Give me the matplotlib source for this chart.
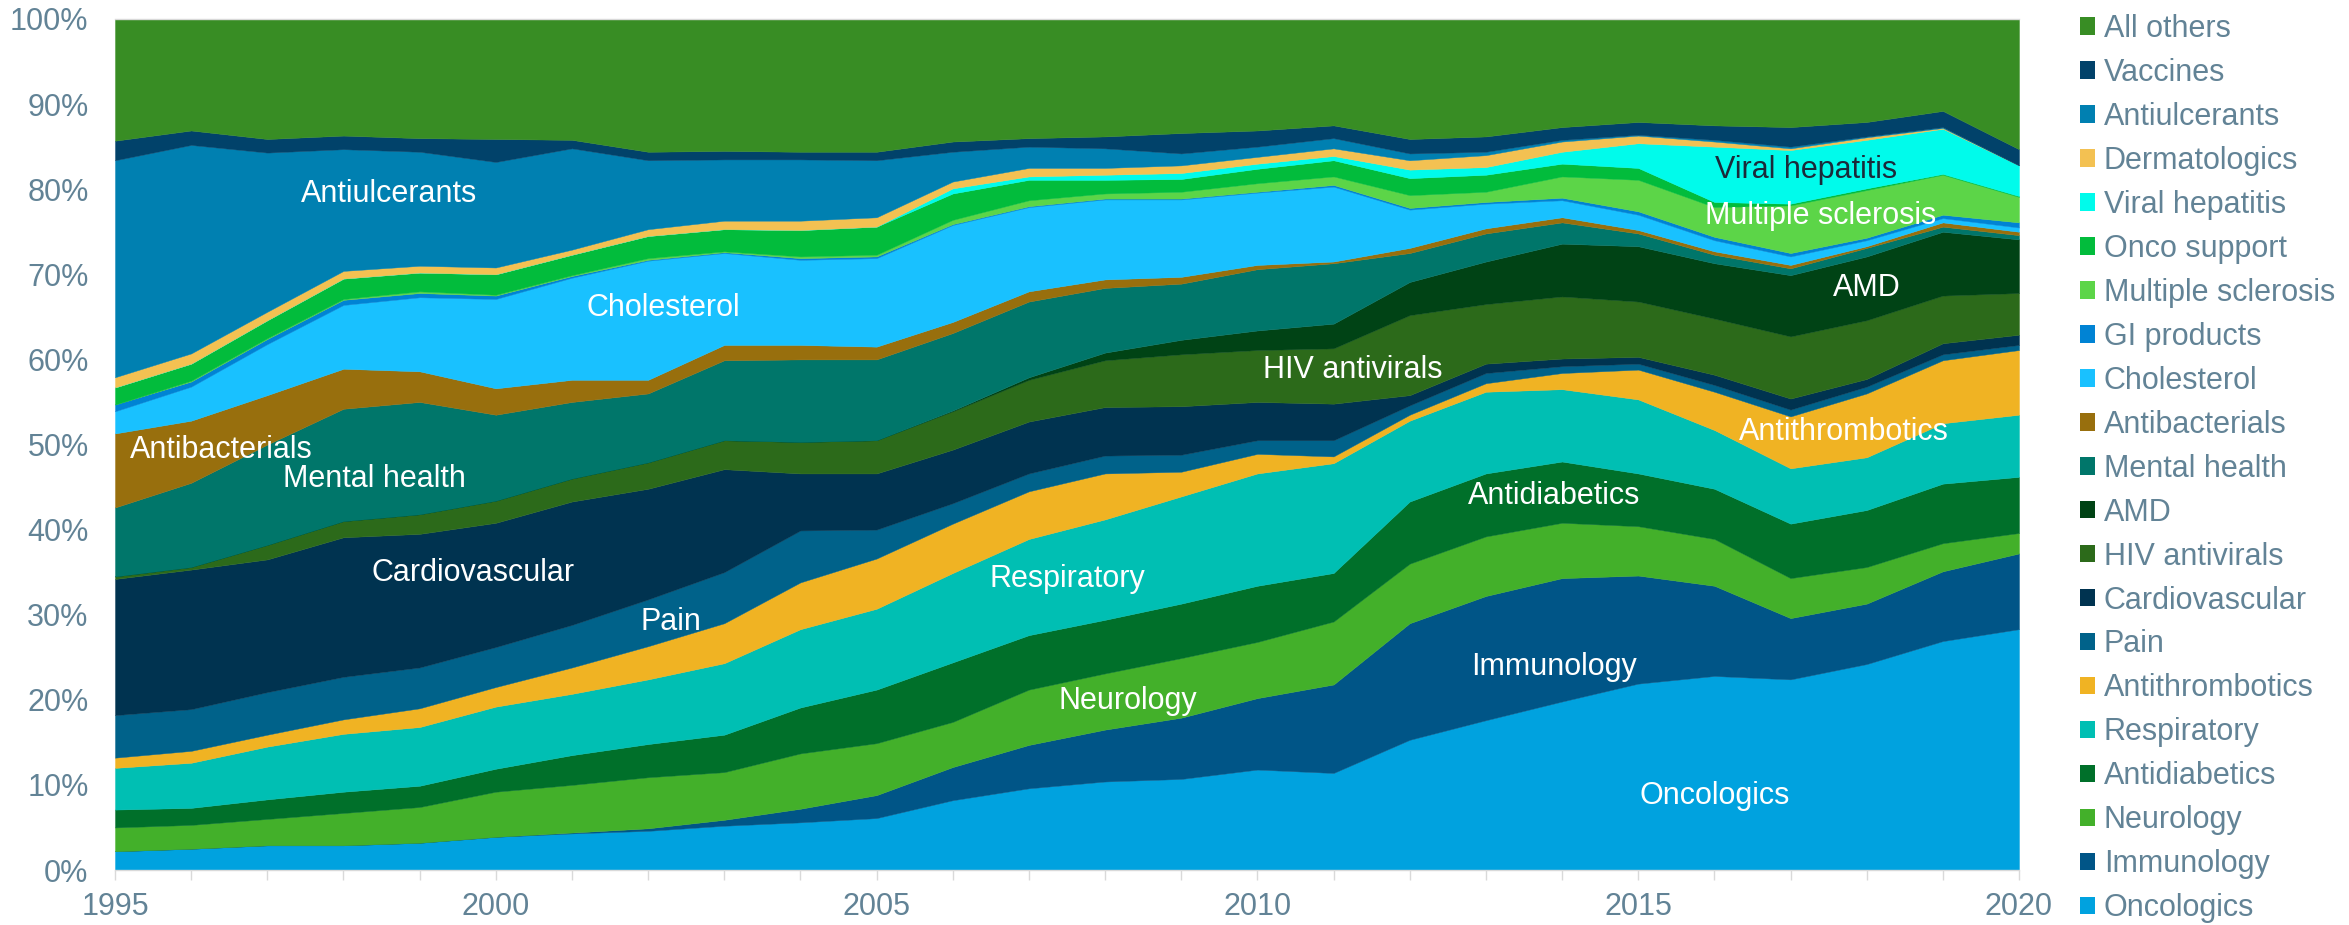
import matplotlib
matplotlib.use("Agg")
import matplotlib.pyplot as plt
from matplotlib.patches import Patch

# share of global pharma sales by therapy class, 1995-2020 (%)
years = list(range(1995, 2021))

oncologics = [2.2, 2.5, 2.9, 2.9, 3.2, 3.9, 4.3, 4.6, 5.2, 5.6, 6.1, 8.2, 9.6, 10.4, 10.7, 11.8, 11.4, 15.3, 17.6, 19.8, 21.9, 22.8, 22.4, 24.2, 26.9, 28.3]
immunology = [0.0, 0.0, 0.0, 0.0, 0.0, 0.0, 0.1, 0.3, 0.7, 1.6, 2.7, 3.9, 5.1, 6.1, 7.2, 8.4, 10.4, 13.7, 14.6, 14.5, 12.7, 10.6, 7.2, 7.1, 8.2, 8.9]
neurology = [2.8, 2.8, 3.1, 3.8, 4.2, 5.3, 5.6, 6.0, 5.6, 6.5, 6.1, 5.3, 6.5, 6.6, 7.0, 6.6, 7.4, 7.0, 7.0, 6.5, 5.8, 5.5, 4.7, 4.3, 3.3, 2.4]
antidiabetics = [2.1, 2.0, 2.3, 2.5, 2.5, 2.7, 3.5, 3.9, 4.4, 5.4, 6.3, 7.0, 6.4, 6.3, 6.4, 6.6, 5.7, 7.3, 7.4, 7.2, 6.2, 5.9, 6.4, 6.7, 7.0, 6.6]
respiratory = [4.9, 5.3, 6.2, 6.8, 6.9, 7.3, 7.2, 7.6, 8.4, 9.2, 9.5, 10.5, 11.3, 11.8, 12.6, 13.2, 12.9, 9.5, 9.6, 8.5, 8.7, 6.9, 6.5, 6.2, 7.1, 7.3]
antithrombotics = [1.2, 1.4, 1.4, 1.7, 2.2, 2.3, 3.1, 3.9, 4.7, 5.5, 5.9, 5.8, 5.6, 5.4, 2.9, 2.3, 0.8, 0.7, 1.0, 1.9, 3.5, 4.5, 6.1, 7.5, 7.4, 7.6]
pain = [5.0, 4.9, 5.0, 5.0, 4.8, 4.7, 5.0, 5.5, 6.0, 6.1, 3.4, 2.4, 2.1, 2.1, 2.0, 1.6, 1.9, 1.1, 1.2, 0.8, 0.7, 0.8, 0.8, 0.8, 0.7, 0.6]
cardiovascular = [16.0, 16.4, 15.6, 16.4, 15.7, 14.6, 14.5, 13.0, 12.1, 6.7, 6.6, 6.3, 6.1, 5.7, 5.7, 4.5, 4.3, 1.2, 1.1, 0.9, 0.8, 1.2, 1.3, 0.9, 1.3, 1.2]
hiv_antivirals = [0.3, 0.3, 1.7, 1.9, 2.3, 2.6, 2.7, 3.1, 3.4, 3.7, 3.9, 4.5, 4.9, 5.5, 6.1, 6.1, 6.5, 9.4, 7.0, 7.3, 6.5, 6.6, 7.3, 6.9, 5.6, 4.9]
amd = [0.0, 0.0, 0.0, 0.0, 0.0, 0.0, 0.0, 0.0, 0.0, 0.0, 0.0, 0.1, 0.3, 0.9, 1.7, 2.3, 2.9, 3.9, 5.0, 6.2, 6.5, 6.5, 7.2, 7.5, 7.5, 6.3]
mental_health = [8.1, 9.9, 11.8, 13.2, 13.2, 10.1, 9.0, 8.1, 9.4, 9.7, 9.5, 9.1, 8.9, 7.6, 6.6, 7.2, 7.1, 3.4, 3.3, 2.5, 1.5, 1.0, 0.8, 1.0, 0.6, 0.5]
antibacterials = [8.7, 7.3, 5.8, 4.7, 3.6, 3.1, 2.6, 1.6, 1.8, 1.7, 1.5, 1.3, 1.2, 1.0, 0.8, 0.5, 0.2, 0.6, 0.6, 0.6, 0.4, 0.4, 0.4, 0.2, 0.5, 0.4]
cholesterol = [2.6, 4.0, 6.0, 7.5, 8.7, 10.5, 12.0, 14.0, 10.8, 10.0, 10.4, 11.4, 9.9, 9.4, 9.1, 8.5, 8.8, 4.5, 2.9, 2.0, 1.8, 1.3, 1.0, 0.7, 0.5, 0.5]
gi_products = [0.8, 0.6, 0.6, 0.6, 0.5, 0.4, 0.2, 0.1, 0.1, 0.2, 0.2, 0.1, 0.1, 0.1, 0.1, 0.1, 0.2, 0.2, 0.2, 0.3, 0.4, 0.4, 0.4, 0.3, 0.4, 0.6]
multiple_sclerosis = [0.0, 0.1, 0.1, 0.1, 0.2, 0.1, 0.1, 0.2, 0.1, 0.2, 0.2, 0.5, 0.7, 0.6, 0.8, 1.0, 1.0, 1.5, 1.2, 2.5, 3.7, 3.5, 5.6, 5.6, 4.7, 3.0]
onco_support = [2.0, 2.0, 2.1, 2.4, 2.2, 2.4, 2.4, 2.6, 2.6, 3.1, 3.3, 3.1, 2.4, 1.6, 1.5, 1.7, 1.9, 2.0, 2.0, 1.5, 1.4, 0.6, 0.2, 0.2, 0.1, 0.1]
viral_hepatitis = [0.0, 0.0, 0.0, 0.0, 0.0, 0.0, 0.0, 0.0, 0.0, 0.0, 0.0, 0.6, 0.4, 0.6, 0.7, 0.6, 0.5, 1.0, 0.9, 1.4, 2.9, 6.5, 6.3, 5.7, 5.3, 3.6]
dermatologics = [1.2, 1.2, 1.0, 0.9, 0.8, 0.8, 0.6, 0.8, 1.0, 1.1, 1.1, 0.8, 1.0, 0.8, 0.9, 0.8, 0.9, 1.1, 1.4, 1.2, 0.9, 0.6, 0.2, 0.3, 0.1, 0.0]
antiulcerants = [25.5, 24.5, 18.7, 14.3, 13.4, 12.4, 11.9, 8.1, 7.2, 7.2, 6.7, 3.5, 2.5, 2.3, 1.4, 1.2, 1.2, 0.8, 0.4, 0.2, 0.1, 0.2, 0.2, 0.1, 0.1, 0.0]
vaccines = [2.3, 1.7, 1.6, 1.6, 1.6, 2.7, 1.0, 1.0, 1.0, 0.9, 1.0, 1.2, 1.0, 1.4, 2.4, 1.9, 1.5, 1.7, 1.8, 1.5, 1.5, 1.7, 2.3, 1.7, 1.9, 1.9]
all_others = [14.3, 13.1, 14.1, 13.7, 14.0, 14.1, 14.2, 15.6, 15.5, 15.6, 15.6, 14.4, 14.0, 13.8, 13.4, 13.1, 12.5, 14.1, 13.8, 12.7, 12.1, 12.5, 12.7, 12.1, 10.8, 15.3]

# bottom to top
names = ["Oncologics", "Immunology", "Neurology", "Antidiabetics", "Respiratory",
         "Antithrombotics", "Pain", "Cardiovascular", "HIV antivirals", "AMD",
         "Mental health", "Antibacterials", "Cholesterol", "GI products",
         "Multiple sclerosis", "Onco support", "Viral hepatitis", "Dermatologics",
         "Antiulcerants", "Vaccines", "All others"]
series = [oncologics, immunology, neurology, antidiabetics, respiratory,
          antithrombotics, pain, cardiovascular, hiv_antivirals, amd,
          mental_health, antibacterials, cholesterol, gi_products,
          multiple_sclerosis, onco_support, viral_hepatitis, dermatologics,
          antiulcerants, vaccines, all_others]
colors = ["#00A2DF", "#005587", "#43B02A", "#00702A", "#00BFB3",
          "#F0B323", "#00628A", "#003350", "#2C6A1A", "#004315",
          "#00766A", "#986F0D", "#19C1FF", "#0083D4",
          "#5CD548", "#02BC3C", "#00FBEB", "#F3C152",
          "#0080B1", "#01426A", "#388D24"]

grey = "#628396"
plt.rcParams['font.family'] = ['Liberation Sans', 'DejaVu Sans']

fig = plt.figure(figsize=(23.49, 9.25), dpi=100)
ax = fig.add_axes([115 / 2349, 1 - 870 / 925, (2019 - 115) / 2349, (870 - 19) / 925])

polys = ax.stackplot(years, *series, colors=colors)
for p, c in zip(polys, colors):
    p.set_edgecolor(c)
    p.set_linewidth(0.3)

ax.set_xlim(1995, 2020)
ax.set_ylim(0, 100)
ax.set_xticks(years)
ax.set_xticklabels([str(y) if y % 5 == 0 else "" for y in years])
ax.set_yticks(range(0, 101, 10))
ax.set_yticklabels([f"{v}%" for v in range(0, 101, 10)])
ax.tick_params(axis="x", length=7, width=1, color="#D9D9D9", labelsize=22, labelcolor=grey, pad=9)
ax.tick_params(axis="y", length=0, labelsize=22, labelcolor=grey, pad=19)
for s in ["left", "right"]:
    ax.spines[s].set_visible(False)
for s in ["top", "bottom"]:
    ax.spines[s].set_color("#D9D9D9")
    ax.spines[s].set_linewidth(1)

# labels inside the areas
area_labels = [
    ("Antiulcerants", 1998.6, 79.4, "white"),
    ("Cholesterol", 2002.2, 66.0, "white"),
    ("Antibacterials", 1996.4, 49.3, "white"),
    ("Mental health", 1998.4, 46.0, "white"),
    ("Cardiovascular", 1999.7, 34.9, "white"),
    ("Pain", 2002.3, 29.2, "white"),
    ("Respiratory", 2007.5, 34.2, "white"),
    ("Neurology", 2008.3, 19.9, "white"),
    ("HIV antivirals", 2011.25, 58.8, "white"),
    ("Antidiabetics", 2013.9, 44.0, "white"),
    ("Immunology", 2013.9, 23.9, "white"),
    ("Oncologics", 2016.0, 8.7, "white"),
    ("Viral hepatitis", 2017.2, 82.3, "#1B2A3A"),
    ("Multiple sclerosis", 2017.4, 76.8, "white"),
    ("AMD", 2018.0, 68.4, "white"),
    ("Antithrombotics", 2017.7, 51.5, "white"),
]
for txt, x, y, c in area_labels:
    ax.text(x, y, txt, color=c, fontsize=22, ha="center", va="center")

handles = [Patch(facecolor=c, edgecolor="none") for c in colors][::-1]
fig.legend(handles, names[::-1], loc="upper left", bbox_to_anchor=(2080 / 2349, 1 - 14 / 925),
           frameon=False, fontsize=22, labelcolor=grey, borderpad=0, borderaxespad=0,
           handlelength=0.5, handleheight=0.5, handletextpad=0.28, labelspacing=0.457)

fig.savefig("out.png", dpi=100)
